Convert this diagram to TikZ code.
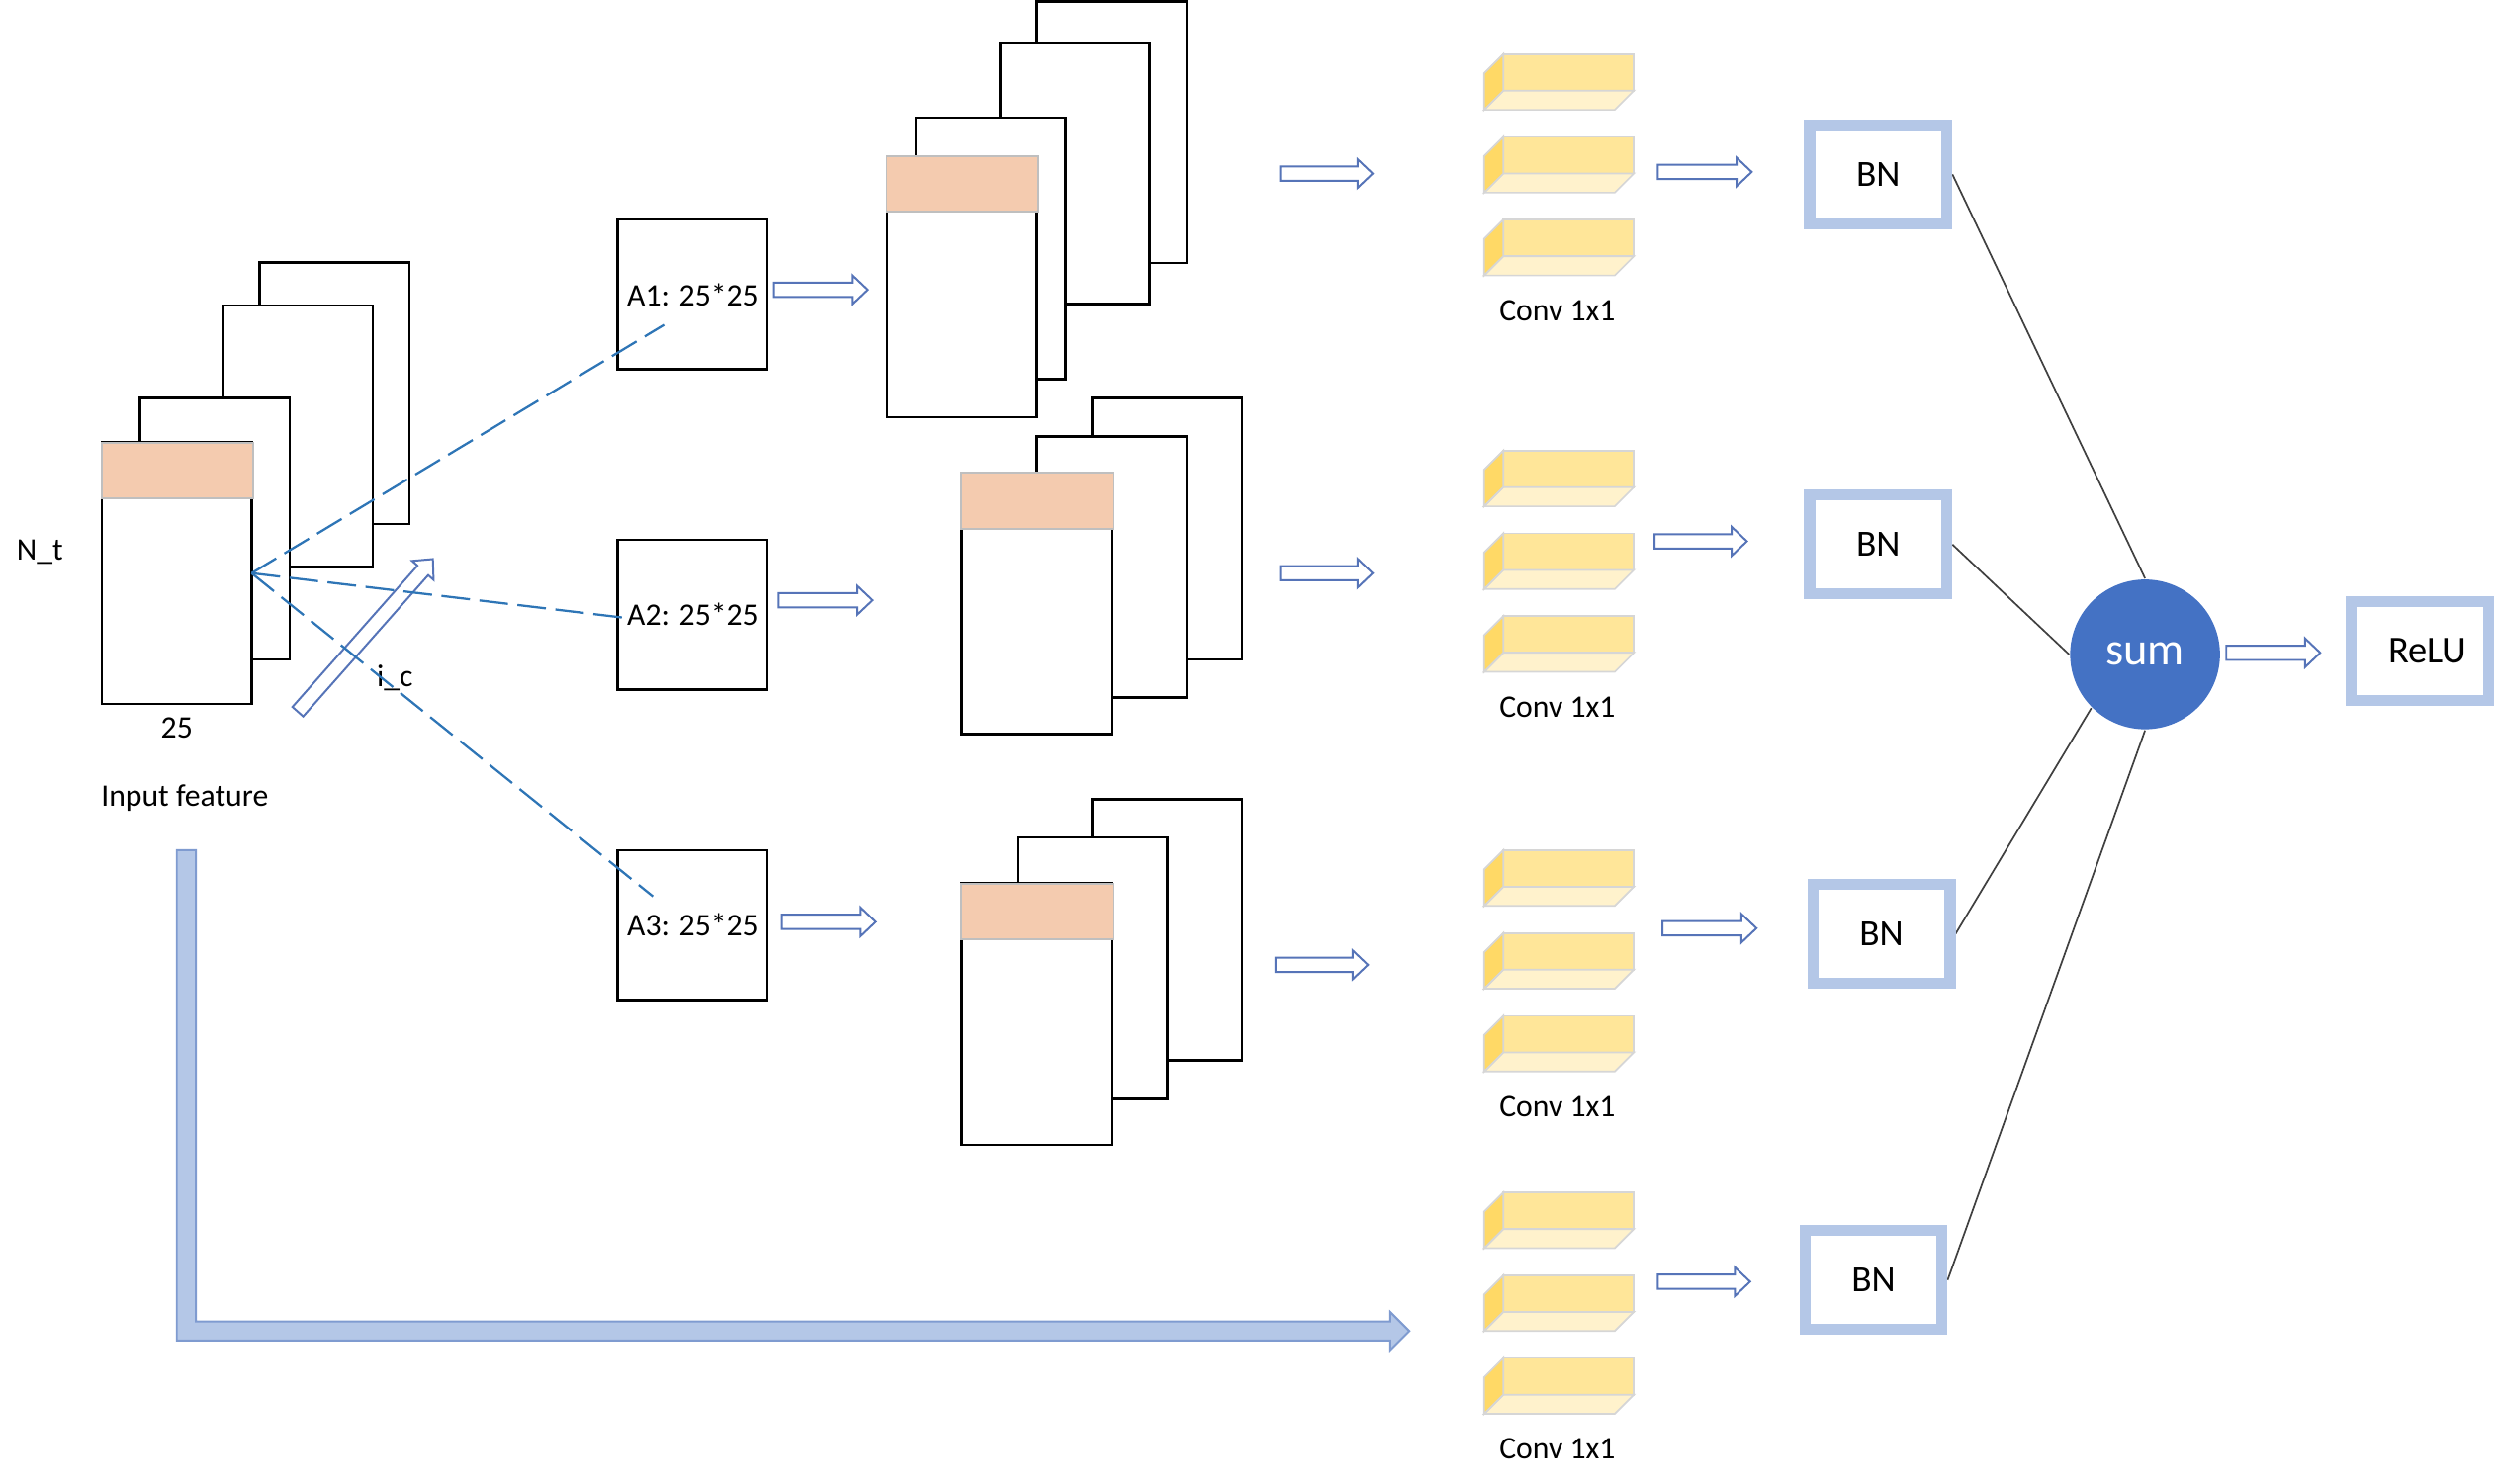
\documentclass[tikz,border=0pt]{standalone}
\usepackage{fontspec}
\setmainfont{Carlito}
\usetikzlibrary{calc,backgrounds}
\definecolor{peach}{HTML}{F4CBAF}
\definecolor{dashblue}{HTML}{2E75B6}
\definecolor{bnblue}{HTML}{B4C7E7}
\definecolor{sumblue}{HTML}{4472C4}
\definecolor{arrowline}{HTML}{5674B8}
\definecolor{barfront}{HTML}{FFE699}
\definecolor{barbottom}{HTML}{FFF2CC}
\definecolor{barside}{HTML}{FFD966}
\definecolor{baredge}{HTML}{D6D6D6}
\definecolor{skipfill}{HTML}{B4C7E7}
\definecolor{skipedge}{HTML}{7F9BD0}

\tikzset{
  sheet/.style={draw=black, line width=0.45pt, fill=white, minimum width=0.94cm,
    minimum height=1.64cm, inner sep=0pt, outer sep=0pt, anchor=north west},
  band/.style={draw=black!25, line width=0.3pt, fill=peach, minimum width=0.95cm,
    minimum height=0.35cm, inner sep=0pt, outer sep=0pt, anchor=north west},
  attn/.style={draw=black, line width=0.45pt, fill=white, minimum width=0.94cm,
    minimum height=0.94cm, inner sep=0pt, font=\fontsize{5.6}{6.7}\selectfont},
  bnbox/.style={draw=bnblue, line width=0.07cm, fill=white, minimum width=0.86cm,
    minimum height=0.62cm, inner sep=0pt, font=\fontsize{6.6}{8}\selectfont},
  lbl/.style={font=\fontsize{5.6}{6.7}\selectfont, inner sep=0pt},
  link/.style={draw=black!75, line width=0.3pt},
  probe/.style={draw=dashblue, line width=0.4pt, dash pattern=on 0.18cm off 0.06cm},
  pics/hollow/.style={code={
    \draw[arrowline, line width=0.35pt, fill=white]
      (0,-4.5) -- (#1-9.5,-4.5) -- (#1-9.5,-9) -- (#1,0) -- (#1-9.5,9)
      -- (#1-9.5,4.5) -- (0,4.5) -- cycle;}},
  pics/convbar/.style={code={
    \filldraw[fill=barfront, draw=baredge, line width=0.3pt] (12,0) rectangle (94,23);
    \filldraw[fill=barbottom, draw=baredge, line width=0.3pt]
      (12,23) -- (94,23) -- (82,35) -- (0,35) -- cycle;
    \filldraw[fill=barside, draw=baredge, line width=0.3pt]
      (0,12) -- (12,0) -- (12,23) -- (0,35) -- cycle;}}
}

\begin{document}
\begin{tikzpicture}[x=0.01cm, y=-0.01cm]
\useasboundingbox (0,0) rectangle (1568,932);

% input feature stack
\node[sheet] (in4) at (163,165) {};
\node[sheet] (in3) at (140,192) {};
\node[sheet] (in2) at (88,250) {};
\node[sheet] (in1) at (64,278) {};
\node[band]  (inb) at (63.8,278) {};
\node[lbl] (nt) at (25,347) {N\_t};
\node[lbl] (w25) at (111,457) {25};
\node[lbl] (inlbl) at (116,501) {Input feature};

% channel direction arrow
\pic[rotate=48.5] at (187,447) {hollow=128};
\node[lbl] (ic) at (248,426) {i\_c};

% attention maps
\node[attn] (a1) at (435,185) {A1: 25*25};
\node[attn] (a2) at (435,386) {A2: 25*25};
\node[attn] (a3) at (435,581) {A3: 25*25};

% probes from the input to each attention map
\coordinate (src) at (158,360);
\coordinate (e1) at (417,204);
\coordinate (e2) at (392,388);
\coordinate (e3) at (410,563);
\draw[probe] (src) -- (e1);
\draw[probe] (src) -- (e2);
\draw[probe] (src) -- (e3);

% weighted stacks
\node[sheet] (s1d) at (651,1) {};
\node[sheet] (s1c) at (628,27) {};
\node[sheet] (s1b) at (575,74) {};
\node[sheet] (s1a) at (557,98) {};
\node[band]  (s1band) at (556.8,98) {};

\node[sheet] (s2c) at (686,250) {};
\node[sheet] (s2b) at (651,274) {};
\node[sheet] (s2a) at (604,297) {};
\node[band]  (s2band) at (603.8,297) {};

\node[sheet] (s3c) at (686,502) {};
\node[sheet] (s3b) at (639,526) {};
\node[sheet] (s3a) at (604,555) {};
\node[band]  (s3band) at (603.8,555) {};

% flow arrows
\pic at (486,182) {hollow=59};
\pic at (489,377) {hollow=59};
\pic at (491,579) {hollow=59};
\pic at (804,109) {hollow=58};
\pic at (804,360) {hollow=58};
\pic at (801,606) {hollow=58};
\pic at (1041,108) {hollow=59};
\pic at (1039,340) {hollow=58};
\pic at (1044,583) {hollow=59};
\pic at (1041,805) {hollow=58};
\pic at (1398,410) {hollow=59};

% 1x1 convolution groups
\foreach \t/\n in {34/c1, 283/c2, 534/c3, 749/c4} {
  \pic at (932,\t) {convbar};
  \pic at (932,\t+52) {convbar};
  \pic at (932,\t+104) {convbar};
  \node[lbl] (\n) at (978,\t+161) {Conv 1x1};
}

% skip connection
\filldraw[fill=skipfill, draw=skipedge, line width=0.35pt]
  (111,534) -- (123,534) -- (123,830) -- (873,830) -- (873,824) -- (885,836)
  -- (873,848) -- (873,842) -- (111,842) -- cycle;

% batch norms, merge and activation
\node[circle, fill=sumblue, minimum size=0.94cm, inner sep=0pt, text=white,
  font=\fontsize{8.2}{10}\selectfont] (sum) at (1347,411) {sum};
\node[bnbox] (bn1) at (1179.5,109.5) {BN};
\node[bnbox] (bn2) at (1179.5,342) {BN};
\node[bnbox] (bn3) at (1181.5,586.5) {BN};
\node[bnbox] (bn4) at (1176.5,804) {BN};
\node[bnbox, font=\fontsize{6.8}{8}\selectfont] (relu) at (1519.5,409)
  {\hspace{0.1cm}ReLU};
\begin{scope}[on background layer]
  \draw[link] (bn1.east) -- (sum.north);
  \draw[link] (bn2.east) -- (sum.west);
  \draw[link] (bn3.east) -- (sum.225);
  \draw[link] (bn4.east) -- (sum.south);
\end{scope}
\end{tikzpicture}
\end{document}
